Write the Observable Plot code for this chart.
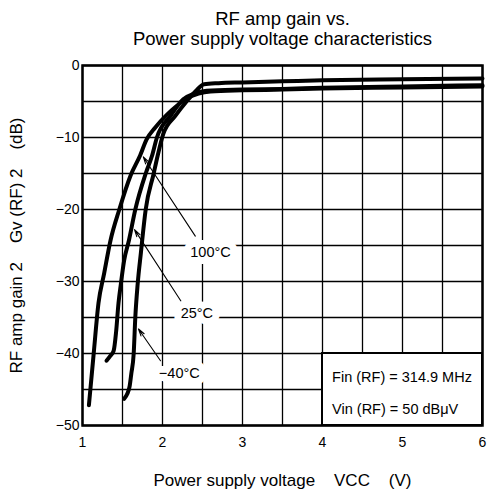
<!DOCTYPE html>
<html><head><meta charset="utf-8">
<script src="https://cdn.jsdelivr.net/npm/d3@7"></script>
<script src="https://cdn.jsdelivr.net/npm/@observablehq/plot@0.6"></script>
<style>
body{margin:0;background:#fff;}
svg{font-family:"Liberation Sans",Arial,sans-serif;}
</style>
</head><body><div id="chart"></div>
<script>
// ---- data ----
const vcc100  = [1.08,1.14,1.20,1.27,1.35,1.46,1.60,1.72,1.80,1.91,2.05,2.18,2.30,2.45,2.60,3.00,3.50,4.00,5.00,6.00];
const gain100 = [-47.2,-40,-33,-28.9,-24.3,-20,-15.3,-12.5,-10.3,-8.6,-6.9,-5.6,-4.6,-3.9,-3.6,-3.45,-3.35,-3.2,-3.05,-2.9];
const vcc25   = [1.30,1.35,1.39,1.42,1.45,1.48,1.52,1.58,1.66,1.79,1.87,1.93,2.10,2.26,2.40,2.55,3.00,3.50,4.00,5.00,6.00];
const gain25  = [-41,-40.3,-39.6,-37,-33,-30.3,-27.1,-24.3,-20,-15,-12.5,-10,-7,-4.7,-3.9,-3.5,-3.35,-3.25,-3.1,-2.9,-2.75];
const vccM40  = [1.52,1.56,1.59,1.61,1.64,1.66,1.69,1.73,1.79,1.89,1.94,2.01,2.16,2.30,2.42,2.52,2.70,3.00,3.50,4.00,5.00,6.00];
const gainM40 = [-46.3,-45.6,-44.5,-42.8,-40,-35,-30.3,-26,-20,-15,-12.5,-9.5,-7,-5,-3.5,-2.6,-2.45,-2.35,-2.2,-2.05,-1.9,-1.8];

const tempNames = ["100°C","25°C","−40°C"];
const labelVcc  = [2.60, 2.43, 2.21];
const labelGain = [-26, -34.4, -42.7];
// leader lines: from label to curve
const leadFromVcc  = [2.41, 2.23, 1.975];
const leadFromGain = [-23.7, -32.7, -41];
const leadToVcc    = [1.76, 1.65, 1.70];
const leadToGain   = [-12.7, -22.8, -36.6];

const xTicks = [1,2,3,4,5,6];
const yTicks = [0,-10,-20,-30,-40,-50];
const gridX = [1,1.5,2,2.5,3,3.5,4,4.5,5,5.5,6];
const gridY = [0,-5,-10,-15,-20,-25,-30,-35,-40,-45,-50];

const titleLines = ["RF amp gain vs.", "Power supply voltage characteristics"];
const xLabel = "Power supply voltage    VCC    (V)";
const yLabel = "RF amp gain 2\u00A0\u00A0\u00A0\u00A0Gv (RF) 2\u00A0\u00A0\u00A0\u00A0(dB)";
const legendLines = ["Fin (RF) = 314.9 MHz", "Vin (RF) = 50 dBμV"];
const legendVcc = 4.12;
const legendGain = [-43.3, -47.8];
const legendBox = [{x1:4, x2:6, y1:-50, y2:-40}];

// ---- build tables ----
const seriesList = [
  {temp:tempNames[0], vcc:vcc100, gain:gain100},
  {temp:tempNames[1], vcc:vcc25, gain:gain25},
  {temp:tempNames[2], vcc:vccM40, gain:gainM40}
];
const curves = seriesList.flatMap(s => s.vcc.map((v,i)=>({temp:s.temp, vcc:v, gain:s.gain[i]})));
const labels = tempNames.map((t,i)=>({t, vcc:labelVcc[i], gain:labelGain[i]}));
const leaders = tempNames.map((t,i)=>({x1:leadFromVcc[i], y1:leadFromGain[i], x2:leadToVcc[i], y2:leadToGain[i]}));
const legendRows = legendLines.map((t,i)=>({t, vcc:legendVcc, gain:legendGain[i]}));

const font = "Liberation Sans, Arial, sans-serif";
const plot = Plot.plot({
  width: 487, height: 492,
  marginTop: 65, marginLeft: 82, marginRight: 5, marginBottom: 67,
  style: {fontFamily: font, background: "white", color: "black", overflow: "visible"},
  x: {domain: [1, 6]},
  y: {domain: [-50, 0]},
  marks: [
    Plot.ruleX(gridX, {stroke: "black", strokeWidth: 1.3}),
    Plot.ruleY(gridY, {stroke: "black", strokeWidth: 1.3}),
    Plot.rect(legendBox, {x1: "x1", x2: "x2", y1: "y1", y2: "y2", fill: "white", stroke: "black", strokeWidth: 2}),
    Plot.line(curves, {x: "vcc", y: "gain", z: "temp", stroke: "black", strokeWidth: 4, curve: "monotone-x"}),
    Plot.arrow(leaders, {x1: "x1", y1: "y1", x2: "x2", y2: "y2", stroke: "black", strokeWidth: 1.1, headLength: 10, headAngle: 30}),
    Plot.text(labels, {x: "vcc", y: "gain", text: "t", fontSize: 14.5, fill: "black", stroke: "white", strokeWidth: 14, lineAnchor: "middle"}),
    Plot.frame({stroke: "black", strokeWidth: 2.5}),
    Plot.axisX(xTicks, {tickSize: 0, tickPadding: 12, fontSize: 14, label: null}),
    Plot.axisY(yTicks, {tickSize: 0, tickPadding: 3, fontSize: 14, label: null}),
    Plot.text([titleLines[0]], {text: d => d, frameAnchor: "top", lineAnchor: "middle", dy: -46.5, fontSize: 18.5}),
    Plot.text([titleLines[1]], {text: d => d, frameAnchor: "top", lineAnchor: "middle", dy: -26, fontSize: 18.5}),
    Plot.text([xLabel], {text: d => d, frameAnchor: "bottom", lineAnchor: "middle", dy: 55, fontSize: 17, ariaLabel: "xlabel"}),
    Plot.text([yLabel], {text: d => d, frameAnchor: "left", textAnchor: "middle", lineAnchor: "middle", rotate: -90, dx: -66, dy: 0, fontSize: 17}),
    Plot.text(legendRows, {x: "vcc", y: "gain", text: "t", textAnchor: "start", lineAnchor: "middle", fontSize: 14.5, ariaLabel: "legend"})
  ]
});
document.getElementById("chart").appendChild(plot);

// subscripts: VCC and Vin
const svg = d3.select(plot);
const sp = "\u00A0\u00A0\u00A0\u00A0";
svg.selectAll('g[aria-label="xlabel"] text').each(function(){
  const t = d3.select(this);
  t.text(null);
  t.append("tspan").text("Power supply voltage" + sp + "V");
  t.append("tspan").attr("dy", 3).text("CC");
  t.append("tspan").attr("dy", -3).text(sp + "(V)");
});
svg.selectAll('g[aria-label="legend"] text').each(function(){
  const t = d3.select(this);
  const s = t.text();
  if (s.startsWith("Vin")) {
    t.text(null);
    t.append("tspan").text("V");
    t.append("tspan").attr("dy", 3).text("in");
    t.append("tspan").attr("dy", -3).text(s.slice(3));
  }
});
</script>
</body></html>
